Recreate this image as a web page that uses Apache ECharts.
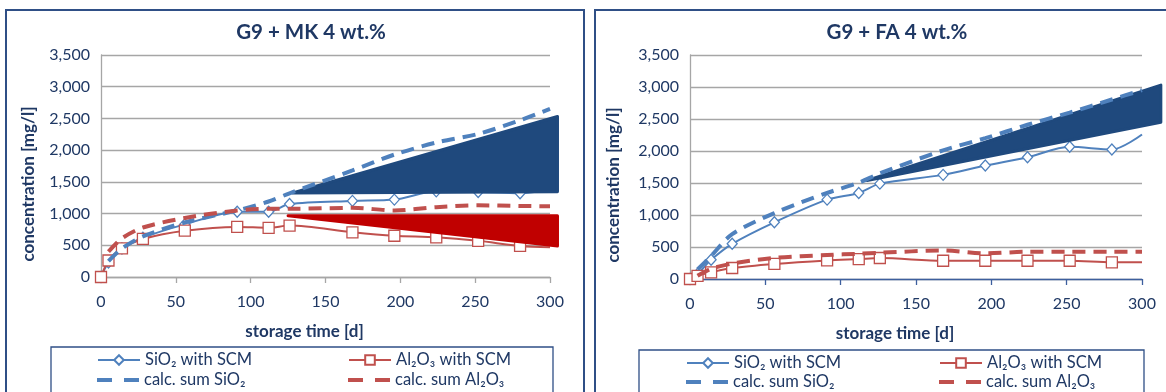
<!DOCTYPE html>
<html>
<head>
<meta charset="utf-8">
<script src="https://cdn.jsdelivr.net/npm/echarts@6/dist/echarts.min.js"></script>
<style>
  html, body { margin: 0; padding: 0; background: #fff; }
  #chart { width: 1166px; height: 392px; }
</style>
</head>
<body>
<div id="chart"></div>
<script>
// storage days of the leaching measurements
const days = [0, 5, 14, 28, 56, 91, 112, 126, 168, 196, 224, 252, 280, 300];
// calculated sums start from the first leaching step
const calcDays = [5, 14, 28, 56, 91, 112, 126, 168, 196, 224, 252, 280, 300];

// G9 + MK 4 wt.%  (mg/l)
const mkSiO2 = [0, 230, 450, 620, 830, 1030, 1030, 1150, 1200, 1220, 1350, 1340, 1320, 1380];
const mkAl2O3 = [0, 260, 450, 600, 730, 790, 775, 810, 705, 650, 625, 570, 490, 470];
const mkCalcSiO2 = [250, 450, 640, 860, 1050, 1190, 1320, 1680, 1930, 2120, 2255, 2470, 2650];
const mkCalcAl2O3 = [400, 610, 780, 930, 1050, 1075, 1075, 1090, 1050, 1100, 1130, 1120, 1115];

// G9 + FA 4 wt.%  (mg/l)
const faSiO2 = [0, 80, 300, 550, 886, 1240, 1345, 1490, 1627, 1773, 1903, 2065, 2023, 2258];
const faAl2O3 = [0, 50, 105, 172, 235, 290, 312, 328, 285, 285, 285, 285, 260, 262];
const faCalcSiO2 = [150, 360, 700, 1030, 1345, 1505, 1650, 2010, 2200, 2410, 2600, 2805, 2950];
const faCalcAl2O3 = [50, 160, 240, 330, 375, 395, 410, 445, 400, 425, 425, 425, 425];

// trend wedges (day, mg/l)
const mkSiWedge = [[128, 1325], [305, 2530], [305, 1345]];
const mkAlWedge = [[125, 965], [305, 965], [305, 490]];
const faSiWedge = [[117.5, 1540], [312.5, 3030], [312.5, 2450]];

const titles = ['G9 + MK 4 wt.%', 'G9 + FA 4 wt.%'];
const yTicks = [0, 500, 1000, 1500, 2000, 2500, 3000, 3500];
const names = {
  si: 'SiO\u2082 with SCM',
  al: 'Al\u2082O\u2083 with SCM',
  cSi: 'calc. sum SiO\u2082',
  cAl: 'calc. sum Al\u2082O\u2083'
};

const NAVY = '#1f3864';
const BLUE = '#4f81bd';
const RED = '#c0504d';
const GRID = '#a6a6a6';
const FRAME = '#2f4f86';
const FONT = 'Lato, "Open Sans", sans-serif';
// two thick dashes used as the legend sample of the calculated sums
const DASH_ICON = 'path://M0,0h15v4h-15z M27,0h15v4h-15z';

const pairs = (xs, ys) => xs.map((x, i) => [x, ys[i]]);

function measured(name, xs, ys, color, symbol, size, idx) {
  const last = xs.length - 1;
  // the end point at the axis limit carries no marker
  const data = pairs(xs, ys).map((p, i) => (i === last ? { value: p, symbol: 'none' } : p));
  return {
    name, type: 'line', xAxisIndex: idx, yAxisIndex: idx,
    data, smooth: 0.3, symbol, symbolSize: size, showAllSymbol: true,
    lineStyle: { color, width: 2 },
    itemStyle: { color: '#fff', borderColor: color, borderWidth: 1.3 },
    z: 3
  };
}
function calc(name, xs, ys, color, idx) {
  return {
    name, type: 'line', xAxisIndex: idx, yAxisIndex: idx,
    data: pairs(xs, ys), smooth: 0.3, symbol: 'none',
    lineStyle: { color, width: 4, type: [13, 8], cap: 'butt' },
    itemStyle: { color },
    z: 5
  };
}
function wedge(verts, color, idx) {
  return {
    type: 'custom', xAxisIndex: idx, yAxisIndex: idx, data: [0], clip: false, silent: true,
    renderItem: (params, api) => ({
      type: 'polygon',
      shape: { points: verts.map(p => api.coord(p)) },
      style: { fill: color, stroke: color, lineWidth: 3, lineJoin: 'round' }
    }),
    z: 4
  };
}

function xAxis(idx, lineColor) {
  return {
    gridIndex: idx, type: 'value', min: 0, max: 300, interval: 50,
    name: 'storage time [d]', nameLocation: 'middle', nameGap: 46,
    nameTextStyle: { color: NAVY, fontFamily: FONT, fontWeight: 'bold', fontSize: 17, padding: [0, 42, 0, 0] },
    axisLine: { show: true, lineStyle: { color: lineColor, width: 1.3 } },
    axisTick: { show: true, length: 6, lineStyle: { color: lineColor, width: 1.3 } },
    axisLabel: { color: NAVY, fontFamily: FONT, fontSize: 16, margin: 17 },
    splitLine: { show: false }
  };
}
function yAxis(idx, gap) {
  return {
    gridIndex: idx, type: 'value', min: yTicks[0], max: yTicks[yTicks.length - 1], interval: 500,
    name: 'concentration [mg/l]', nameLocation: 'middle', nameGap: gap,
    nameTextStyle: { color: NAVY, fontFamily: FONT, fontWeight: 'bold', fontSize: 17, padding: [0, 36, 0, 0] },
    axisLine: { show: true, lineStyle: { color: GRID, width: 1.3 } },
    axisTick: { show: false },
    axisLabel: { color: NAVY, fontFamily: FONT, fontSize: 16, margin: 11,
      formatter: v => v.toLocaleString('en-US') },
    splitLine: { show: true, lineStyle: { color: GRID, width: 1.3 } }
  };
}
// one legend entry, vertically centred on the given row
function legendItem(left, rowCenter, name, dashed) {
  return {
    left, top: rowCenter - 10, padding: 0,
    itemWidth: 42, itemHeight: dashed ? 4 : 12,
    data: [dashed ? { name, icon: DASH_ICON } : name],
    textStyle: { color: NAVY, fontFamily: FONT, fontSize: 16.5, lineHeight: 20 },
    selectedMode: false
  };
}

const chart = echarts.init(document.getElementById('chart'), null, { renderer: 'canvas' });
chart.setOption({
  animation: false,
  backgroundColor: '#fff',
  title: [
    { text: titles[0], left: 311, top: 22, textAlign: 'center', padding: 0,
      textStyle: { color: NAVY, fontFamily: FONT, fontWeight: 'bold', fontSize: 20.5 } },
    { text: titles[1], left: 897, top: 22, textAlign: 'center', padding: 0,
      textStyle: { color: NAVY, fontFamily: FONT, fontWeight: 'bold', fontSize: 20.5 } }
  ],
  grid: [
    { left: 101, top: 55, width: 449, height: 222 },
    { left: 690, top: 55, width: 452, height: 224 }
  ],
  xAxis: [xAxis(0, GRID), xAxis(1, '#3d5f9e')],
  yAxis: [yAxis(0, 64), yAxis(1, 68)],
  legend: [
    legendItem(97, 360, names.si, false),
    legendItem(97, 380, names.cSi, true),
    legendItem(348, 360, names.al, false),
    legendItem(348, 380, names.cAl, true),
    legendItem(686, 363, names.si, false),
    legendItem(686, 382, names.cSi, true),
    legendItem(939, 363, names.al, false),
    legendItem(939, 382, names.cAl, true)
  ],
  graphic: [
    { type: 'rect', shape: { x: 6, y: 10, width: 578, height: 400 },
      style: { fill: null, stroke: FRAME, lineWidth: 2 }, silent: true },
    { type: 'rect', shape: { x: 595, y: 10, width: 580, height: 400 },
      style: { fill: null, stroke: FRAME, lineWidth: 2 }, silent: true },
    { type: 'rect', shape: { x: 51, y: 347, width: 502, height: 60 },
      style: { fill: null, stroke: FRAME, lineWidth: 1.3 }, silent: true },
    { type: 'rect', shape: { x: 639, y: 350, width: 505, height: 60 },
      style: { fill: null, stroke: FRAME, lineWidth: 1.3 }, silent: true }
  ],
  series: [
    measured(names.si, days, mkSiO2, BLUE, 'diamond', [10, 11], 0),
    measured(names.al, days, mkAl2O3, RED, 'rect', 11, 0),
    calc(names.cSi, calcDays, mkCalcSiO2, BLUE, 0),
    calc(names.cAl, calcDays, mkCalcAl2O3, RED, 0),
    wedge(mkSiWedge, '#1f497d', 0),
    wedge(mkAlWedge, '#c00000', 0),
    measured(names.si, days, faSiO2, BLUE, 'diamond', [10, 11], 1),
    measured(names.al, days, faAl2O3, RED, 'rect', 11, 1),
    calc(names.cSi, calcDays, faCalcSiO2, BLUE, 1),
    calc(names.cAl, calcDays, faCalcAl2O3, RED, 1),
    wedge(faSiWedge, '#1f497d', 1)
  ]
});
</script>
</body>
</html>
